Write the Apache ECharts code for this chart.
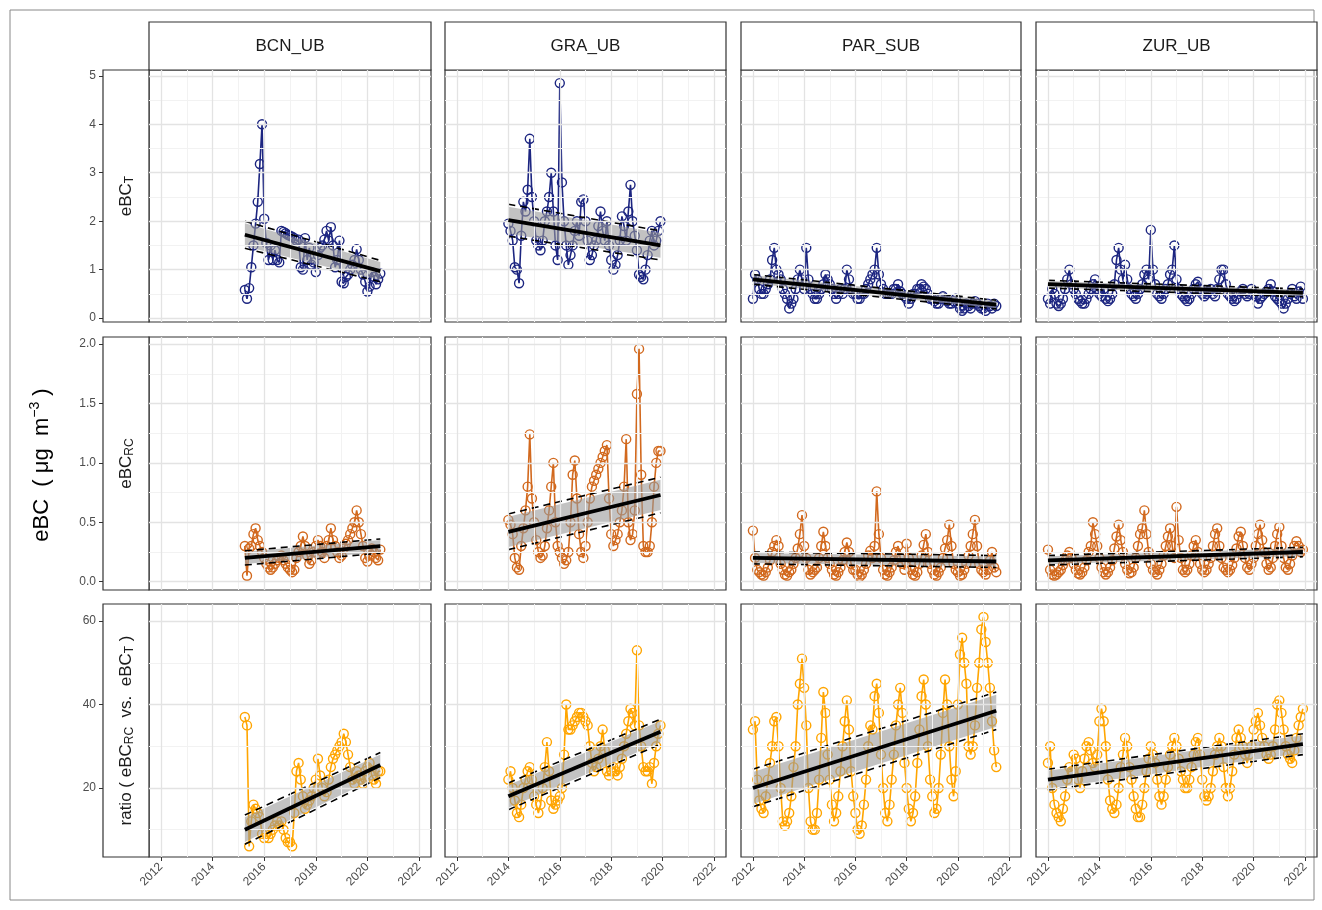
<!DOCTYPE html>
<html><head><meta charset="utf-8">
<script src="https://cdn.jsdelivr.net/npm/echarts@6/dist/echarts.min.js"></script>
<style>html,body{margin:0;padding:0;background:#fff}#c{width:1322px;height:910px}</style>
</head><body><div id="c"></div>
<script>
const stations = ['BCN_UB','GRA_UB','PAR_SUB','ZUR_UB'];
const startYear = [2015.25, 2014.0, 2012.0, 2012.0];
const xTickLabels = [2012,2014,2016,2018,2020,2022];
const xMinorTicks = [2013,2015,2017,2019,2021];

const bcnT = [0.58,0.4,0.62,1.05,1.5,1.95,2.4,3.18,4.0,2.05,1.55,1.2,
1.5,1.2,1.4,1.2,1.15,1.8,1.78,1.75,1.72,1.7,1.68,1.65,
1.6,1.62,1.05,1.0,1.65,1.2,1.45,1.1,1.15,0.95,1.3,1.45,
1.5,1.62,1.8,1.6,1.88,1.5,1.05,1.2,1.6,0.75,0.72,0.85,
0.9,1.0,1.1,1.2,1.42,1.2,1.0,0.9,0.75,0.55,0.65,0.95,0.85,0.7,0.8,0.92];
const bcnRC = [0.3,0.05,0.28,0.3,0.4,0.45,0.35,0.3,0.25,0.2,0.15,0.12,
0.1,0.12,0.15,0.18,0.2,0.22,0.18,0.15,0.12,0.1,0.08,0.1,
0.2,0.25,0.3,0.38,0.3,0.22,0.15,0.18,0.25,0.3,0.35,0.3,
0.25,0.2,0.3,0.35,0.45,0.35,0.3,0.25,0.2,0.22,0.28,0.32,
0.35,0.4,0.45,0.5,0.6,0.5,0.4,0.3,0.2,0.17,0.22,0.28,0.25,0.2,0.18,0.27];
const bcnRatio = [37,35,6,12,16,15,14,13,9,8,9,8,
9,10,11,12,11,12,10,8,7,7,6,14,
24,26,22,18,15,16,17,18,20,22,27,23,
20,18,19,22,25,27,28,29,30,31,33,31,
28,25,22,21,24,23,22,21,24,25,26,23,22,21,24,24];

const graT = [1.95,1.8,1.6,1.05,1.0,0.72,1.7,2.4,2.2,2.65,3.7,2.5,
2.0,1.6,1.5,1.4,1.6,2.0,2.2,2.5,3.0,2.2,1.5,1.2,
4.85,2.8,2.0,1.5,1.1,1.3,1.5,1.8,2.0,1.7,2.4,2.45,
2.0,1.6,1.2,1.3,1.5,1.6,1.9,2.2,1.8,1.6,2.0,1.5,
1.2,1.0,1.1,1.3,1.6,2.1,1.9,1.6,2.2,2.75,2.0,1.7,
1.4,0.9,0.85,0.8,1.0,1.3,1.6,1.8,1.5,1.6,1.8,2.0];
const graRC = [0.52,0.48,0.4,0.2,0.12,0.1,0.3,0.45,0.6,0.8,1.24,0.7,
0.5,0.35,0.25,0.2,0.22,0.3,0.45,0.6,0.8,1.0,0.5,0.3,
0.25,0.2,0.15,0.18,0.25,0.5,0.9,1.02,0.7,0.4,0.25,0.2,
0.3,0.5,0.7,0.8,0.85,0.9,0.95,1.0,1.05,1.1,1.15,0.7,
0.4,0.3,0.35,0.4,0.5,0.6,0.8,1.2,0.5,0.35,0.4,0.6,
1.58,1.96,0.9,0.3,0.25,0.25,0.3,0.5,0.8,1.0,1.1,1.1];
const graRatio = [22,24,20,17,14,13,16,20,22,24,25,22,
18,16,14,16,20,25,31,24,17,15,16,17,
18,20,28,40,34,34,35,36,37,38,38,37,
36,35,30,26,24,25,27,30,34,29,24,23,
24,25,24,23,25,27,30,33,36,39,38,35,
53,35,30,25,24,24,25,21,26,30,33,35];

const parT = [0.4,0.9,0.8,0.6,0.5,0.5,0.6,0.7,0.8,1.2,1.45,1.0,
0.9,0.8,0.6,0.5,0.4,0.2,0.3,0.4,0.6,0.8,1.0,0.8,
0.6,1.45,0.8,0.6,0.5,0.4,0.4,0.5,0.6,0.7,0.9,0.8,
0.7,0.6,0.5,0.4,0.5,0.6,0.5,0.6,1.0,0.8,0.6,0.5,
0.5,0.4,0.4,0.5,0.5,0.6,0.7,0.8,0.9,1.0,1.45,0.9,
0.7,0.6,0.5,0.5,0.5,0.5,0.6,0.6,0.7,0.55,0.5,0.45,
0.4,0.3,0.4,0.5,0.5,0.6,0.6,0.7,0.65,0.6,0.5,0.4,
0.4,0.35,0.3,0.3,0.4,0.45,0.4,0.35,0.3,0.3,0.35,0.4,
0.3,0.2,0.15,0.2,0.3,0.25,0.2,0.3,0.35,0.3,0.25,0.2,
0.2,0.15,0.3,0.25,0.2,0.3,0.25];
const parRC = [0.43,0.2,0.1,0.08,0.06,0.05,0.08,0.12,0.18,0.25,0.3,0.35,
0.3,0.15,0.1,0.06,0.05,0.08,0.1,0.15,0.2,0.28,0.4,0.56,
0.3,0.2,0.1,0.06,0.08,0.1,0.12,0.2,0.3,0.42,0.3,0.2,
0.15,0.1,0.06,0.05,0.08,0.12,0.18,0.25,0.33,0.25,0.15,0.1,
0.1,0.06,0.04,0.06,0.1,0.15,0.22,0.26,0.2,0.3,0.76,0.4,
0.2,0.1,0.06,0.05,0.08,0.12,0.18,0.25,0.3,0.2,0.15,0.1,
0.32,0.2,0.1,0.06,0.05,0.08,0.15,0.22,0.31,0.4,0.25,0.15,
0.1,0.06,0.05,0.08,0.12,0.2,0.28,0.35,0.48,0.3,0.15,0.1,
0.08,0.05,0.06,0.1,0.15,0.22,0.3,0.4,0.52,0.3,0.15,0.1,
0.08,0.06,0.1,0.18,0.25,0.12,0.08];
const parRatio = [34,36,22,17,15,14,18,22,26,30,36,37,
30,20,12,11,12,14,18,25,30,40,45,51,
44,35,20,12,10,10,14,22,32,43,38,28,
22,16,12,14,18,24,30,36,41,34,24,18,
14,10,9,11,16,22,30,35,34,42,45,38,
28,20,14,12,16,22,28,35,40,44,38,26,
20,15,12,14,18,26,34,42,46,40,30,22,
18,14,15,20,28,38,46,40,30,22,18,24,
40,52,56,50,45,30,28,30,35,44,50,58,
61,55,50,44,36,29,25];

const zurT = [0.4,0.3,0.6,0.5,0.3,0.25,0.3,0.4,0.6,0.8,1.0,0.7,
0.6,0.5,0.4,0.35,0.3,0.3,0.4,0.5,0.6,0.7,0.8,0.6,
0.5,0.45,0.6,0.4,0.35,0.4,0.5,0.7,1.2,1.45,1.0,0.8,
1.1,0.8,0.6,0.5,0.45,0.4,0.5,0.6,0.7,0.9,1.0,0.8,
1.82,1.0,0.7,0.5,0.45,0.4,0.5,0.6,0.7,0.9,1.0,1.5,
0.8,0.6,0.5,0.45,0.4,0.35,0.4,0.5,0.6,0.7,0.75,0.6,
0.5,0.45,0.5,0.55,0.6,0.5,0.45,0.6,0.8,1.0,1.0,0.7,
0.5,0.45,0.4,0.35,0.4,0.5,0.55,0.6,0.5,0.45,0.5,0.6,
0.5,0.45,0.3,0.4,0.45,0.5,0.55,0.6,0.7,0.55,0.45,0.4,
0.35,0.3,0.2,0.3,0.4,0.5,0.6,0.45,0.4,0.55,0.65,0.4];
const zurRC = [0.27,0.1,0.06,0.05,0.06,0.08,0.1,0.14,0.18,0.22,0.25,0.2,
0.15,0.1,0.07,0.06,0.08,0.12,0.18,0.25,0.3,0.5,0.4,0.3,
0.2,0.12,0.08,0.06,0.08,0.12,0.18,0.28,0.38,0.48,0.35,0.25,
0.15,0.1,0.07,0.08,0.12,0.2,0.3,0.4,0.45,0.6,0.4,0.25,
0.15,0.1,0.08,0.06,0.1,0.15,0.22,0.3,0.38,0.45,0.3,0.2,
0.63,0.35,0.2,0.1,0.08,0.1,0.15,0.22,0.3,0.35,0.25,0.15,
0.1,0.08,0.1,0.15,0.2,0.3,0.4,0.45,0.3,0.2,0.12,0.1,
0.08,0.1,0.14,0.2,0.28,0.38,0.42,0.3,0.2,0.12,0.1,0.15,
0.2,0.3,0.4,0.48,0.35,0.25,0.15,0.1,0.12,0.2,0.3,0.4,
0.46,0.3,0.2,0.12,0.1,0.15,0.22,0.3,0.34,0.3,0.25,0.27];
const zurRatio = [26,30,20,16,14,13,12,15,18,22,25,24,
28,27,22,20,24,27,30,31,29,26,25,28,
36,39,36,30,22,17,15,14,16,20,25,28,
32,30,25,22,18,15,13,13,16,20,24,27,
30,28,26,22,18,16,18,22,25,28,30,32,
30,27,24,22,20,20,22,25,28,31,32,28,
22,18,17,18,20,24,28,30,32,30,25,20,
18,20,24,28,32,34,32,30,28,26,28,30,
34,36,38,35,32,30,28,27,28,30,34,40,
41,38,34,30,28,27,26,29,32,35,37,39];

const trendT = [[1.72,0.97],[2.02,1.5],[0.8,0.28],[0.7,0.52]];
const ciT = [[0.28,0.22],[0.33,0.3],[0.1,0.09],[0.08,0.08]];
const trendRC = [[0.2,0.3],[0.42,0.73],[0.2,0.17],[0.18,0.25]];
const ciRC = [[0.06,0.06],[0.15,0.15],[0.05,0.05],[0.04,0.04]];
const trendRatio = [[10,25.5],[18,33.5],[20,38.5],[22,30.5]];
const ciRatio = [[3.5,3],[3.2,3],[4.5,4.5],[2.5,2.5]];

const yTickLabels = [[0,1,2,3,4,5],[0.0,0.5,1.0,1.5,2.0],[20,40,60]];
const yMinorTicks = [[0.5,1.5,2.5,3.5,4.5],[0.25,0.75,1.25,1.75],[10,30,50]];

const data = [[bcnT,graT,parT,zurT],[bcnRC,graRC,parRC,zurRC],[bcnRatio,graRatio,parRatio,zurRatio]];
const trends = [trendT,trendRC,trendRatio];
const cis = [ciT,ciRC,ciRatio];
const colors = ['#1c2580','#d2691e','#ffa500'];

const colL = [149,445,741,1036], colW = [282,281,280,281];
const rowT = [70,337,604], rowH = [252,253,253];
const yMin = [-0.08,-0.07,3.45], yMax = [5.12,2.06,64.1];

const grids=[],xAxes=[],yAxes=[],series=[],graphic=[];
const font='Liberation Sans, Arial, sans-serif';
const MAJ='#e3e3e3', MIN='#f2f2f2';
for(let r=0;r<3;r++){for(let c=0;c<4;c++){
  const g=grids.length;
  grids.push({left:colL[c],top:rowT[r],width:colW[c],height:rowH[r],show:true,borderColor:'#333',borderWidth:1.2,containLabel:false});
  xAxes.push({type:'value',gridIndex:g,min:2011.535,max:2022.465,
    axisLine:{show:false},splitLine:{show:false},
    axisTick:{show:r===2,customValues:xTickLabels,lineStyle:{color:'#333'},length:4},
    axisLabel:{show:r===2,customValues:xTickLabels,rotate:45,color:'#4d4d4d',fontSize:12,fontFamily:font,margin:8,formatter:v=>String(v)}});
  yAxes.push({type:'value',gridIndex:g,min:yMin[r],max:yMax[r],offset:c===0?46:0,
    axisLine:{show:false},splitLine:{show:false},
    axisTick:{show:c===0,customValues:yTickLabels[r],lineStyle:{color:'#333'},length:4},
    axisLabel:{show:c===0,customValues:yTickLabels[r],color:'#4d4d4d',fontSize:12,fontFamily:font,margin:7,
      formatter:v=>r===1?v.toFixed(1):String(v)}});
  const ml=[];
  xMinorTicks.forEach(v=>ml.push({xAxis:v,lineStyle:{color:MIN,width:1,type:'solid'}}));
  yMinorTicks[r].forEach(v=>ml.push({yAxis:v,lineStyle:{color:MIN,width:1,type:'solid'}}));
  xTickLabels.forEach(v=>ml.push({xAxis:v,lineStyle:{color:MAJ,width:1.3,type:'solid'}}));
  yTickLabels[r].forEach(v=>ml.push({yAxis:v,lineStyle:{color:MAJ,width:1.3,type:'solid'}}));
  series.push({type:'line',xAxisIndex:g,yAxisIndex:g,data:[],z:0,silent:true,animation:false,
    markLine:{silent:true,symbol:['none','none'],label:{show:false},animation:false,data:ml}});
  const vals=data[r][c];
  const pts=vals.map((v,i)=>[startYear[c]+i/12,v]);
  const x0=pts[0][0],x1=pts[pts.length-1][0];
  const tr=trends[r][c],ci=cis[r][c];
  series.push({type:'line',xAxisIndex:g,yAxisIndex:g,data:pts,symbol:'circle',symbolSize:9,
    lineStyle:{color:colors[r],width:1.6},itemStyle:{color:'rgba(255,255,255,0)',borderColor:colors[r],borderWidth:1.4},z:2,animation:false,silent:true});
  const rib=[[x0,tr[0]-ci[0]*0.85,tr[0]+ci[0]*0.85],[x1,tr[1]-ci[1]*0.85,tr[1]+ci[1]*0.85]];
  series.push({type:'custom',xAxisIndex:g,yAxisIndex:g,data:[0],z:3,silent:true,animation:false,
    renderItem:(p,api)=>({type:'polygon',shape:{points:[api.coord([rib[0][0],rib[0][1]]),api.coord([rib[1][0],rib[1][1]]),api.coord([rib[1][0],rib[1][2]]),api.coord([rib[0][0],rib[0][2]])]},
      style:{fill:'rgba(153,153,153,0.6)'}})});
  series.push({type:'line',xAxisIndex:g,yAxisIndex:g,data:[[x0,tr[0]],[x1,tr[1]]],symbol:'none',lineStyle:{color:'#000',width:3.8},z:5,animation:false,silent:true});
  series.push({type:'line',xAxisIndex:g,yAxisIndex:g,data:[[x0,tr[0]+ci[0]],[x1,tr[1]+ci[1]]],symbol:'none',lineStyle:{color:'#000',width:1.6,type:[7,5]},z:4,animation:false,silent:true});
  series.push({type:'line',xAxisIndex:g,yAxisIndex:g,data:[[x0,tr[0]-ci[0]],[x1,tr[1]-ci[1]]],symbol:'none',lineStyle:{color:'#000',width:1.6,type:[7,5]},z:4,animation:false,silent:true});
}}
graphic.push({type:'rect',shape:{x:10,y:10,width:1304,height:890},style:{fill:'none',stroke:'#888',lineWidth:1},z:-10});
for(let c=0;c<4;c++){
  graphic.push({type:'rect',shape:{x:colL[c],y:22,width:colW[c],height:48},style:{fill:'#fff',stroke:'#333',lineWidth:1.2}});
  graphic.push({type:'text',x:colL[c]+colW[c]/2,y:46,style:{text:stations[c],font:'17px '+font,fill:'#1a1a1a',align:'center',verticalAlign:'middle'}});
}
const rowLab=['eBC{sub|T}','eBC{sub|RC}','ratio ( eBC{sub|RC}  vs.  eBC{sub|T} )'];
for(let r=0;r<3;r++){
  graphic.push({type:'rect',shape:{x:103,y:rowT[r],width:46,height:rowH[r]},style:{fill:'#fff',stroke:'#333',lineWidth:1.2}});
  graphic.push({type:'text',x:126,y:rowT[r]+rowH[r]/2,rotation:Math.PI/2,style:{text:rowLab[r],font:'17px '+font,fill:'#1a1a1a',align:'center',verticalAlign:'middle',
    rich:{sub:{fontSize:12,fontFamily:font,fill:'#1a1a1a',padding:[8,0,0,0]}}}});
}
graphic.push({type:'text',x:42,y:465,rotation:Math.PI/2,style:{text:'eBC  ( μg  m{sup|−3} )',font:'22px '+font,fill:'#000',align:'center',verticalAlign:'middle',
  rich:{sup:{fontSize:14,fontFamily:font,fill:'#000',padding:[0,0,14,0]}}}});

const chart=echarts.init(document.getElementById('c'),null,{renderer:'canvas'});
chart.setOption({animation:false,grid:grids,xAxis:xAxes,yAxis:yAxes,series:series,graphic:graphic});
</script></body></html>
